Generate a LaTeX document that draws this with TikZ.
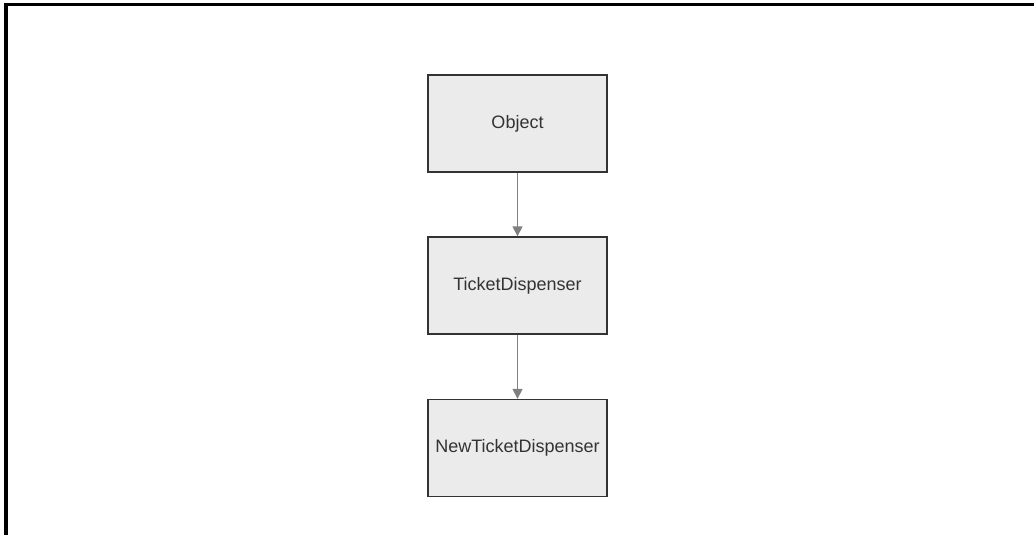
\documentclass[tikz,border=0pt]{standalone}
\usepackage{fontspec}
\setmainfont{Liberation Sans}
\usetikzlibrary{arrows.meta}
\definecolor{boxfill}{HTML}{EBEBEB}
\definecolor{boxline}{HTML}{333333}
\definecolor{arrowgray}{HTML}{808080}
\definecolor{txt}{HTML}{333333}
\begin{document}
\begin{tikzpicture}[x=0.75pt,y=-0.75pt,
  classbox/.style={draw=boxline,fill=boxfill,line width=1pt,minimum width=134.25pt,minimum height=72.75pt,inner sep=0pt,text=txt,font=\fontsize{13.5}{16}\selectfont},
  link/.style={draw=arrowgray,line width=1pt,-{Triangle[length=7.5pt,width=7.5pt]}}]
\useasboundingbox (0,0) rectangle (1034,535);
\draw[line width=2.4pt,line cap=butt] (6,535) -- (6,4.5) -- (1034,4.5);
\node[classbox] (obj) at (517.5,123.5) {Object};
\node[classbox] (td) at (517.5,285.5) {TicketDispenser};
\node[classbox] (ntd) at (517.5,448) {NewTicketDispenser};
\draw[link] (obj) -- (td);
\draw[link] (td) -- (ntd);
\end{tikzpicture}
\end{document}
